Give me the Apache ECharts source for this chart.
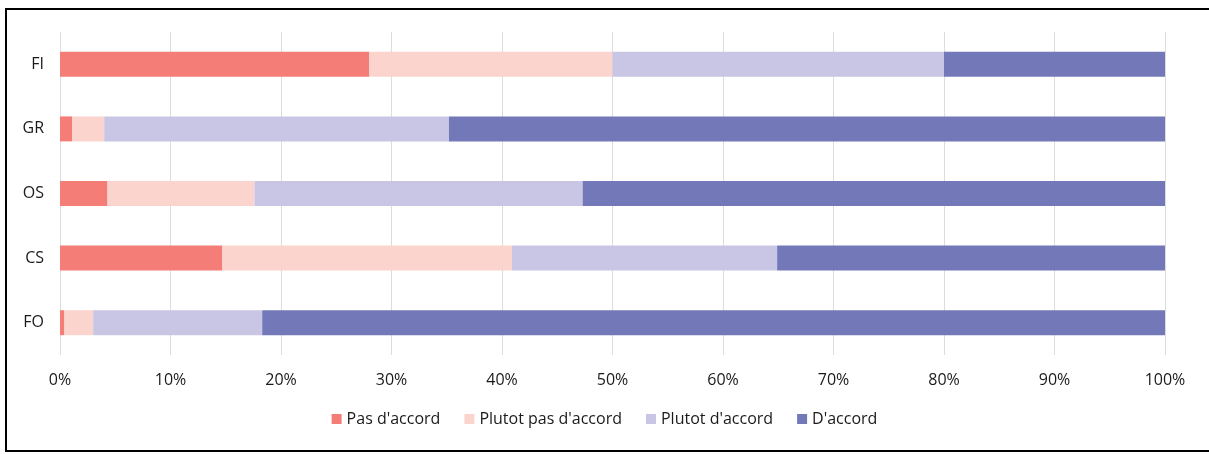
<!DOCTYPE html>
<html>
<head>
<meta charset="utf-8">
<script src="https://cdn.jsdelivr.net/npm/echarts@6/dist/echarts.min.js"></script>
<style>
    html, body { margin: 0; padding: 0; background: #fff; }
    #container { width: 1209px; height: 454px; }
</style>
</head>
<body>
<div id="container"></div>
<script>
    // categories, top to bottom
    const categories = ['FI', 'GR', 'OS', 'CS', 'FO'];
    const tickLabels = ['0%', '10%', '20%', '30%', '40%', '50%', '60%', '70%', '80%', '90%', '100%'];

    // shares in percent, same order as categories
    const pasDaccord = [28.0, 1.1, 4.3, 14.7, 0.4];
    const plutotPasDaccord = [22.0, 2.9, 13.3, 26.2, 2.6];
    const plutotDaccord = [30.0, 31.2, 29.7, 24.0, 15.3];
    const daccord = [20.0, 64.8, 52.7, 35.1, 81.7];

    const seriesNames = ["Pas d'accord", "Plutot pas d'accord", "Plutot d'accord", "D'accord"];
    const seriesData = [pasDaccord, plutotPasDaccord, plutotDaccord, daccord];
    const colors = ['#f47e77', '#fbd4ce', '#c8c6e4', '#7378b9'];

    let dom = document.getElementById('container');
    let myChart = echarts.init(dom);

    let option = {
        animation: false,
        textStyle: {
            fontFamily: '"Open Sans", sans-serif'
        },
        graphic: [
            {
                type: 'rect',
                shape: { x: 6, y: 9, width: 1210, height: 442 },
                style: { fill: 'none', stroke: '#000', lineWidth: 2 },
                silent: true
            }
        ],
        legend: {
            bottom: 22,
            left: 'center',
            itemWidth: 10,
            itemHeight: 10,
            itemGap: 24,
            icon: 'rect',
            textStyle: {
                fontSize: 16,
                color: '#1a1a1a'
            },
            data: seriesNames
        },
        grid: {
            left: 60,
            right: 44,
            top: 32,
            height: 323,
            containLabel: false
        },
        xAxis: {
            type: 'value',
            min: 0,
            max: 100,
            interval: 10,
            axisLine: { show: false },
            axisTick: { show: false },
            splitLine: {
                show: true,
                lineStyle: { color: '#dcdcdc', width: 1 }
            },
            axisLabel: {
                margin: 17,
                fontSize: 16,
                color: '#1a1a1a',
                formatter: function (val) {
                    return tickLabels[Math.round(val / 10)];
                }
            }
        },
        yAxis: {
            type: 'category',
            inverse: true,
            data: categories,
            axisLine: { show: false },
            axisTick: { show: false },
            axisLabel: {
                margin: 16,
                fontSize: 16,
                color: '#1a1a1a'
            }
        },
        series: seriesNames.map(function (name, i) {
            return {
                name: name,
                type: 'bar',
                stack: 'total',
                barWidth: 25,
                itemStyle: { color: colors[i] },
                emphasis: { disabled: true },
                data: seriesData[i]
            };
        })
    };
    myChart.setOption(option);
</script>
</body>
</html>
